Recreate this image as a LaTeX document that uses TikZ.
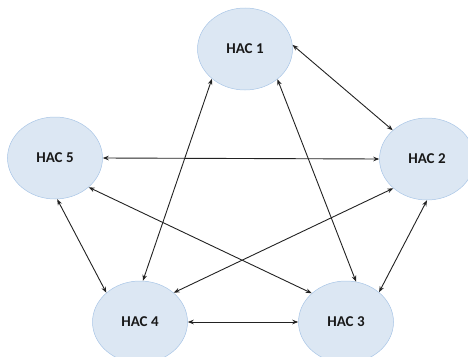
\documentclass[tikz,border=0pt]{standalone}
\usepackage{fontspec}
\setmainfont{Carlito}
\usetikzlibrary{shapes.geometric,arrows.meta}
\definecolor{hacfill}{HTML}{DCE7F3}
\definecolor{hacline}{HTML}{A8C5E6}
\definecolor{linkcol}{HTML}{222222}
\begin{document}
\begin{tikzpicture}[x=1pt,y=-1pt,
        hac/.style={ellipse,fill=hacfill,draw=hacline,line width=0.5pt,minimum width=95pt,minimum height=82pt,inner sep=0pt,font=\fontsize{15}{17}\selectfont\bfseries,text=black!90},
        link/.style={{Stealth[length=6pt,width=4.5pt]}-{Stealth[length=6pt,width=4.5pt]},linkcol,line width=0.9pt}]
    \useasboundingbox (0,0) rectangle (468,356);
    \node[hac] (hac1) at (245,49) {HAC 1};
    \node[hac] (hac2) at (427,159) {HAC 2};
    \node[hac] (hac3) at (346,322) {HAC 3};
    \node[hac] (hac4) at (140,322) {HAC 4};
    \node[hac] (hac5) at (55,158) {HAC 5};
    % outer ring
    \draw[link] (hac1.5) -- (hac2.140);
    \draw[link] (hac2.-90) -- (hac3.42);
    \draw[link] (hac3.west) -- (hac4.east);
    \draw[link] (hac4.139) -- (hac5.-87);
    \draw[link] (hac5.east) -- (hac2.west);
    % inner star
    \draw[link] (hac1.-138) -- (hac4.86);
    \draw[link] (hac1.-43) -- (hac3.76);
    \draw[link] (hac5.-41) -- (hac3.140);
    \draw[link] (hac2.-139) -- (hac4.41);
\end{tikzpicture}
\end{document}
